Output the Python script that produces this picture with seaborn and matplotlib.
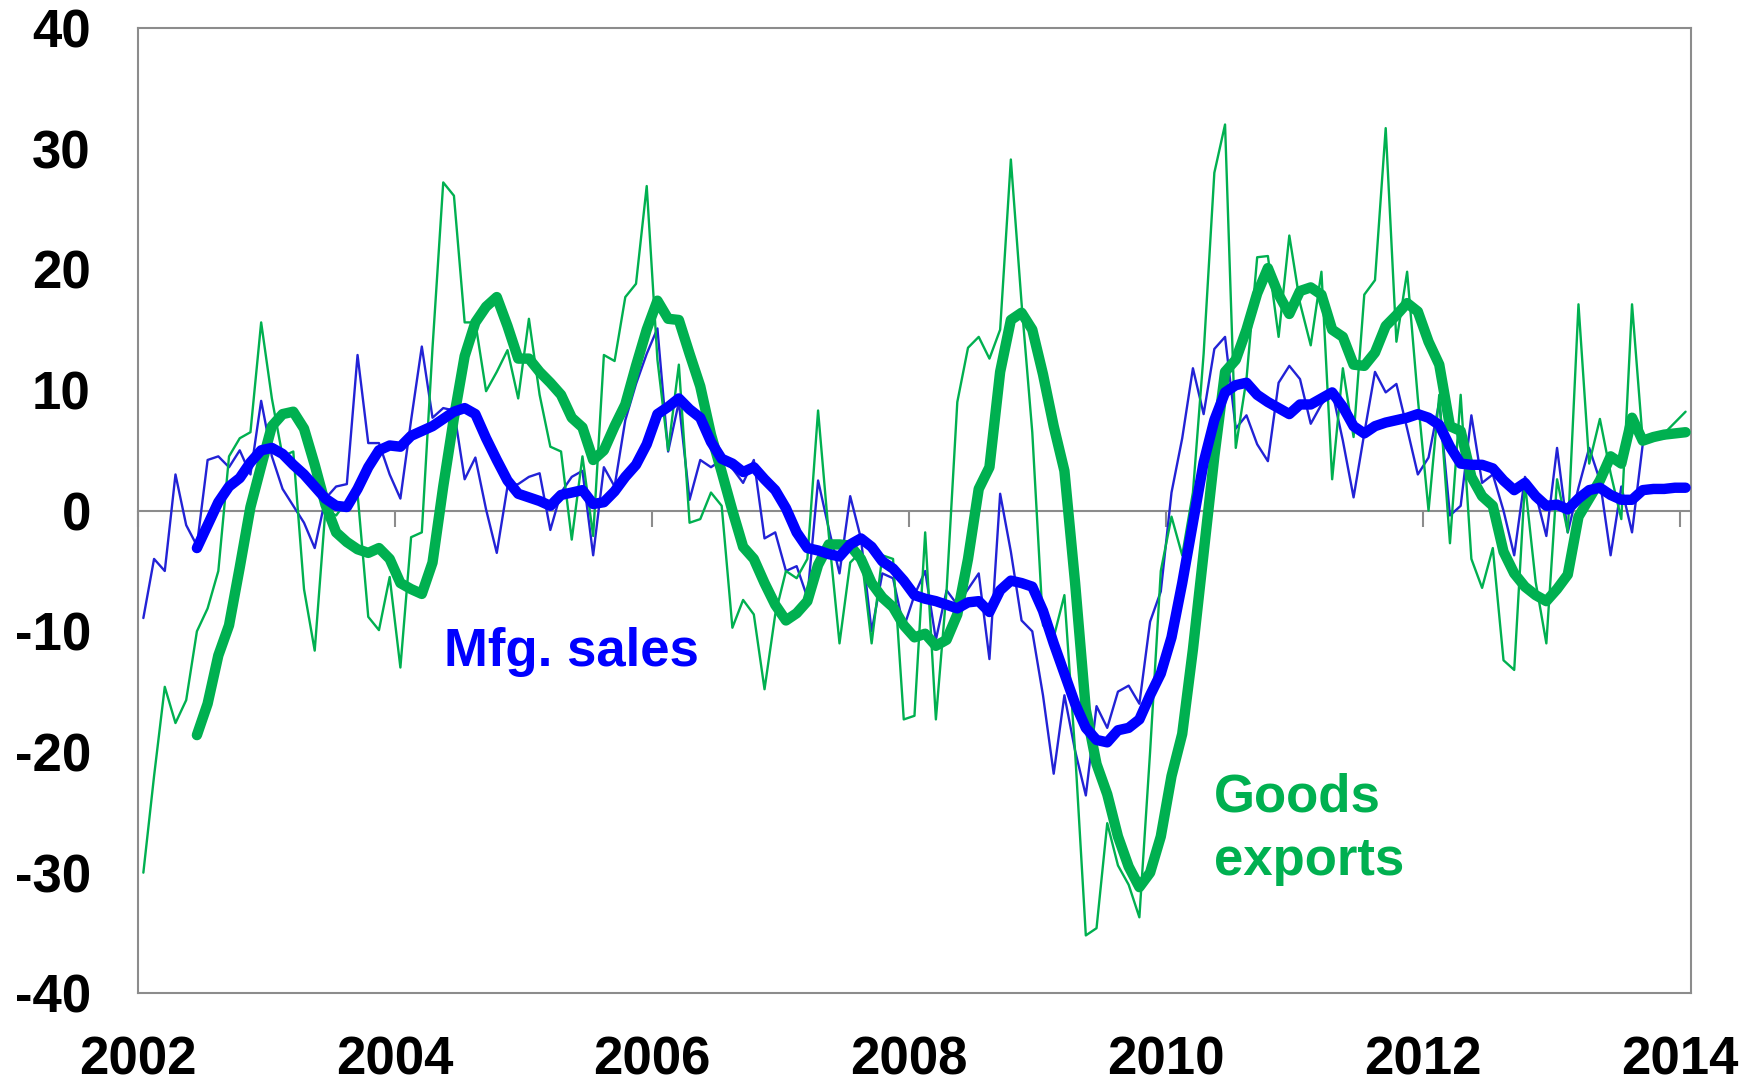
import numpy as np
import pandas as pd
import matplotlib
matplotlib.use("Agg")
import matplotlib.pyplot as plt
import seaborn as sns

# monthly % change y/y, Jan 2002 .. Jan 2014 (145 months)
months = pd.date_range("2002-01-01", "2014-01-01", freq="MS")

mfg_monthly = [
    -8.9, -4.0, -5.0, 3.0, -1.2, -2.9, 4.2, 4.5, 3.6, 5.0,
    3.0, 9.1, 4.5, 1.8, 0.4, -1.0, -3.1, 1.0, 2.0, 2.2,
    12.9, 5.6, 5.6, 3.0, 1.0, 7.5, 13.6, 7.7, 8.5, 8.3,
    2.6, 4.4, 0.1, -3.5, 2.0, 2.2, 2.8, 3.1, -1.6, 1.5,
    2.8, 3.3, -3.7, 3.6, 2.0, 7.5, 10.5, 13.0, 15.1, 4.9,
    9.0, 0.9, 4.2, 3.6, 4.2, 3.5, 2.3, 4.2, -2.3, -1.8,
    -5.0, -4.6, -7.2, 2.5, -1.5, -5.2, 1.2, -2.3, -10.0, -5.2,
    -5.6, -9.7, -7.0, -5.0, -10.7, -6.6, -7.8, -6.5, -5.2, -12.3,
    1.4, -3.4, -9.1, -10.0, -15.3, -21.8, -15.3, -19.9, -23.6, -16.2,
    -18.0, -15.0, -14.5, -16.0, -9.2, -6.7, 1.5, 6.0, 11.8, 8.0,
    13.4, 14.4, 6.8, 7.9, 5.5, 4.1, 10.6, 12.0, 10.9, 7.2,
    8.8, 9.9, 5.8, 1.1, 6.4, 11.5, 9.8, 10.5, 6.8, 3.0,
    4.4, 9.0, -0.4, 0.4, 7.9, 2.3, 3.0, 0.0, -3.7, 2.8,
    1.4, -2.1, 5.2, -1.8, 1.9, 5.2, 2.5, -3.7, 2.0, -1.8,
    5.5, 6.0, 6.0, 6.2, 6.3,
]

exports_monthly = [
    -30.0, -22.0, -14.6, -17.6, -15.7, -10.0, -8.1, -5.0, 4.5, 6.0,
    6.5, 15.6, 9.3, 4.5, 4.9, -6.5, -11.6, 0.1, -0.4, 0.8,
    1.4, -8.8, -9.9, -5.5, -13.0, -2.2, -1.8, 13.5, 27.2, 26.1,
    15.6, 15.6, 9.9, 11.5, 13.3, 9.3, 15.9, 9.6, 5.3, 4.9,
    -2.4, 4.5, -2.1, 12.9, 12.4, 17.7, 18.8, 26.9, 12.5, 5.0,
    12.1, -1.0, -0.7, 1.5, 0.4, -9.7, -7.4, -8.6, -14.8, -8.6,
    -5.0, -5.6, -4.0, 8.3, -2.0, -11.0, -4.3, -3.4, -11.0, -3.7,
    -4.0, -17.3, -17.0, -1.8, -17.3, -6.6, 9.0, 13.5, 14.4, 12.6,
    15.0, 29.1, 17.2, 6.5, -9.5, -10.5, -7.0, -20.0, -35.2, -34.6,
    -25.9, -29.4, -31.0, -33.7, -20.0, -5.0, -0.5, -3.7, 1.5, 13.0,
    28.0, 32.0, 5.2, 10.9, 21.0, 21.1, 14.4, 22.8, 17.2, 13.7,
    19.8, 2.6, 11.8, 6.1, 17.9, 19.1, 31.7, 14.0, 19.8, 9.3,
    0.0, 9.6, -2.7, 9.6, -4.0, -6.4, -3.1, -12.4, -13.2, 2.3,
    -5.9, -11.0, 2.6, -1.8, 17.1, 3.9, 7.6, 3.1, -0.7, 17.1,
    5.8, 6.0, 6.4, 7.3, 8.2,
]

# smoothed series start in Jun 2002
mfg_smooth = [
    -3.1, -1.2, 0.7, 2.0, 2.7, 4.0, 5.0, 5.2, 4.7, 3.8,
    3.0, 2.0, 1.0, 0.4, 0.3, 1.8, 3.6, 5.0, 5.4, 5.3,
    6.2, 6.6, 7.0, 7.6, 8.2, 8.5, 8.0, 6.0, 4.2, 2.5,
    1.4, 1.1, 0.8, 0.4, 1.3, 1.5, 1.7, 0.55, 0.7, 1.6,
    2.8, 3.8, 5.5, 8.0, 8.6, 9.3, 8.4, 7.7, 5.7, 4.3,
    3.9, 3.2, 3.6, 2.6, 1.7, 0.2, -1.8, -3.1, -3.3, -3.6,
    -3.8, -2.8, -2.3, -3.0, -4.2, -4.8, -5.8, -7.0, -7.3, -7.5,
    -7.8, -8.1, -7.6, -7.5, -8.4, -6.6, -5.8, -6.0, -6.3, -8.3,
    -11.0, -13.5, -16.0, -18.0, -19.0, -19.2, -18.2, -18.0, -17.3, -15.3,
    -13.5, -10.5, -6.0, -1.0, 4.0, 7.5, 9.8, 10.4, 10.6, 9.6,
    9.0, 8.5, 8.0, 8.8, 8.8, 9.3, 9.8, 8.6, 7.0, 6.4,
    7.0, 7.3, 7.5, 7.7, 8.0, 7.7, 7.1, 5.3, 3.9, 3.8,
    3.8, 3.5, 2.5, 1.7, 2.3, 1.2, 0.4, 0.5, 0.1, 1.0,
    1.7, 1.9, 1.3, 0.9, 0.9, 1.7, 1.8, 1.8, 1.9, 1.9,
]

exports_smooth = [
    -18.6, -16.0, -12.0, -9.5, -4.7, 0.3, 3.7, 7.0, 8.0, 8.2,
    6.8, 3.8, 0.5, -1.8, -2.6, -3.2, -3.5, -3.1, -4.0, -6.0,
    -6.5, -6.9, -4.3, 2.0, 7.7, 12.8, 15.6, 16.9, 17.7, 15.3,
    12.6, 12.6, 11.5, 10.6, 9.6, 7.7, 6.9, 4.2, 5.0, 7.0,
    8.8, 12.0, 15.0, 17.4, 15.9, 15.8, 13.0, 10.3, 6.3, 3.2,
    0.0, -3.0, -4.0, -6.0, -7.8, -9.1, -8.5, -7.5, -4.5, -2.8,
    -2.8, -2.9, -4.0, -6.0, -7.2, -8.0, -9.5, -10.5, -10.2, -11.2,
    -10.7, -8.6, -4.0, 1.8, 3.6, 11.5, 15.8, 16.4, 15.0, 11.3,
    7.0, 3.3, -6.0, -16.5, -21.0, -23.5, -27.0, -29.5, -31.2, -30.0,
    -27.0, -22.0, -18.5, -11.5, -3.5, 4.5, 11.5, 12.5, 15.0, 18.0,
    20.1, 17.9, 16.3, 18.2, 18.5, 17.9, 15.0, 14.4, 12.1, 12.0,
    13.1, 15.3, 16.2, 17.2, 16.5, 14.0, 12.1, 7.0, 6.6, 2.8,
    1.2, 0.4, -3.4, -5.2, -6.3, -7.0, -7.5, -6.5, -5.3, -0.5,
    1.0, 2.5, 4.5, 3.9, 7.7, 5.8, 6.1, 6.3, 6.4, 6.5,
]

year_ticks = list(range(2002, 2015, 2))
y_ticks = list(range(-40, 41, 10))

blue = "#0000FF"
blue_thin = "#2222D6"
green = "#00B050"
grey = "#8C8C8C"

sns.set_style("white")
plt.rcParams["font.family"] = ["Liberation Sans", "DejaVu Sans"]
plt.rcParams["axes.unicode_minus"] = False

# months sit in the middle of their slot on the axis
x_all = months.year + (months.month - 0.5) / 12
x_smooth = x_all[5:]

fig = plt.figure(figsize=(17.49, 10.88), dpi=100)
ax = fig.add_axes([0.0789, 0.0870, 0.8879, 0.8873])

sns.lineplot(x=x_all, y=mfg_monthly, ax=ax, color=blue_thin, lw=1.7,
             estimator=None, sort=False, zorder=3)
sns.lineplot(x=x_all, y=exports_monthly, ax=ax, color=green, lw=1.7,
             estimator=None, sort=False, zorder=4)
sns.lineplot(x=x_smooth, y=exports_smooth, ax=ax, color=green, lw=7.5,
             estimator=None, sort=False, zorder=5, solid_joinstyle="round",
             solid_capstyle="round")
sns.lineplot(x=x_smooth, y=mfg_smooth, ax=ax, color=blue, lw=7.5,
             estimator=None, sort=False, zorder=6, solid_joinstyle="round",
             solid_capstyle="round")

ax.set_xlim(2002, 2002 + 145 / 12)
ax.set_ylim(-40, 40)
ax.set_xticks(year_ticks)
ax.set_xticklabels([str(y) for y in year_ticks])
ax.set_yticks(y_ticks)
ax.set_yticklabels([str(v) for v in y_ticks])
ax.set_xlabel("")
ax.set_ylabel("")

ax.tick_params(axis="x", length=0, pad=30, labelsize=38, labelcolor="black")
ax.tick_params(axis="y", direction="out", length=11, width=1.5, color=grey,
               pad=23, labelsize=38, labelcolor="black")
for lab in ax.get_xticklabels() + ax.get_yticklabels():
    lab.set_fontweight("bold")

for s in ax.spines.values():
    s.set_color(grey)
    s.set_linewidth(1.5)

# horizontal axis line at zero with tick marks
sec = ax.secondary_xaxis(0.5)
sec.set_alignment("bottom")
sec.set_xticks(year_ticks)
sec.set_xticklabels([])
sec.tick_params(axis="x", direction="out", length=11.5, width=1.5, color=grey)
sec.spines["bottom"].set_color(grey)
sec.spines["bottom"].set_linewidth(1.5)

# series labels
ax.text(2004.38, -12.9, "Mfg. sales", color=blue, fontsize=38,
        fontweight="bold", ha="left", va="baseline")
ax.text(2010.37, -24.9, "Goods", color=green, fontsize=38,
        fontweight="bold", ha="left", va="baseline")
ax.text(2010.37, -30.2, "exports", color=green, fontsize=38,
        fontweight="bold", ha="left", va="baseline")

fig.savefig("out.png", dpi=100)
